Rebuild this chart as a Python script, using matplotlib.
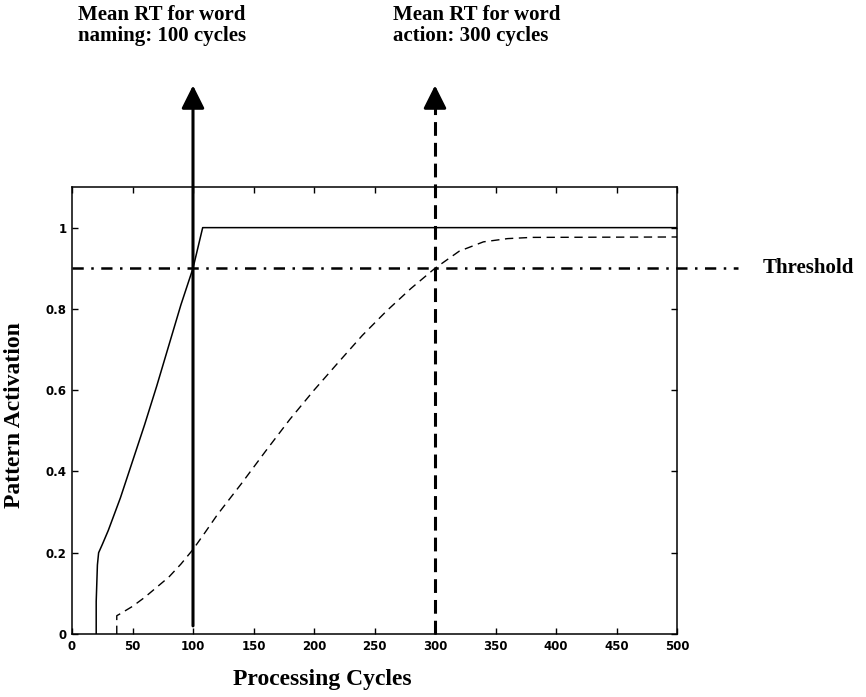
import matplotlib
matplotlib.use('Agg')
import matplotlib.pyplot as plt

# naming curve (solid)
naming_x = [20, 20, 21, 22, 25, 30, 40, 50, 60, 70, 80, 90, 100, 108, 500]
naming_y = [0, 0.08, 0.17, 0.20, 0.22, 0.255, 0.335, 0.425, 0.515, 0.61, 0.71, 0.81, 0.90, 1.0, 1.0]

# action curve (dashed)
action_x = [37, 37, 40, 50, 60, 70, 80, 90, 100, 110, 120, 140, 160, 180, 200,
            220, 240, 260, 280, 300, 320, 340, 360, 380, 500]
action_y = [0, 0.045, 0.05, 0.068, 0.09, 0.115, 0.14, 0.172, 0.208, 0.25, 0.293,
            0.37, 0.45, 0.528, 0.60, 0.668, 0.735, 0.795, 0.85, 0.90, 0.942,
            0.965, 0.973, 0.976, 0.977]

threshold = 0.9
naming_rt = 100
action_rt = 300
x_ticks = [0, 50, 100, 150, 200, 250, 300, 350, 400, 450, 500]
y_ticks = [0, 0.2, 0.4, 0.6, 0.8, 1]
y_ticklabels = ['0', '0.2', '0.4', '0.6', '0.8', '1']

serif = ['Liberation Serif', 'DejaVu Serif']

fig = plt.figure(figsize=(8.66, 6.97), dpi=100)
ax = fig.add_axes([72 / 866, 1 - 634 / 697, (677 - 72) / 866, (634 - 187) / 697])

ax.plot(naming_x, naming_y, color='k', lw=1.1)
ax.plot(action_x, action_y, color='k', lw=1.0, dashes=(6, 4))

# threshold line running past the right edge
ax.plot([0, 550], [threshold, threshold], color='k', lw=1.8,
        dashes=(4.5, 3, 1, 3), clip_on=False)
ax.text(571, threshold, 'Threshold', fontsize=15, fontweight='bold',
        family=serif, va='center', ha='left')

# RT arrows
tip = 1.35
head = dict(arrowstyle='-|>,head_length=0.7,head_width=0.35',
            mutation_scale=20, lw=2.2, color='k', shrinkA=0, shrinkB=0)
ax.annotate('', xy=(naming_rt, tip), xytext=(naming_rt, 0.02),
            arrowprops=head, annotation_clip=False)
ax.plot([action_rt, action_rt], [0, tip - 0.04], color='k', lw=2.2,
        dashes=(4.5, 2.3), clip_on=False)
ax.annotate('', xy=(action_rt, tip), xytext=(action_rt, tip - 0.05),
            arrowprops=head, annotation_clip=False)

fig.text(78 / 866, 1 - 5 / 697, 'Mean RT for word\nnaming: 100 cycles',
         fontsize=15, fontweight='bold', family=serif, va='top', ha='left',
         linespacing=1.08)
fig.text(393 / 866, 1 - 5 / 697, 'Mean RT for word\naction: 300 cycles',
         fontsize=15, fontweight='bold', family=serif, va='top', ha='left',
         linespacing=1.08)

ax.set_xlim(0, 500)
ax.set_ylim(0, 1.1)
ax.set_xticks(x_ticks)
ax.set_yticks(y_ticks)
ax.set_yticklabels(y_ticklabels)
ax.tick_params(direction='in', length=4, width=1, top=True, right=True,
               labelsize=8.5, pad=4)
for lab in ax.get_xticklabels() + ax.get_yticklabels():
    lab.set_fontweight('bold')
for s in ax.spines.values():
    s.set_linewidth(1.1)

fig.text(15 / 866, 1 - 415 / 697, 'Pattern Activation', rotation=90,
         fontsize=17, fontweight='bold', family=serif, va='center', ha='center')
fig.text(322 / 866, 1 - 680 / 697, 'Processing Cycles',
         fontsize=17, fontweight='bold', family=serif, va='center', ha='center')

fig.savefig('out.png', dpi=100)
